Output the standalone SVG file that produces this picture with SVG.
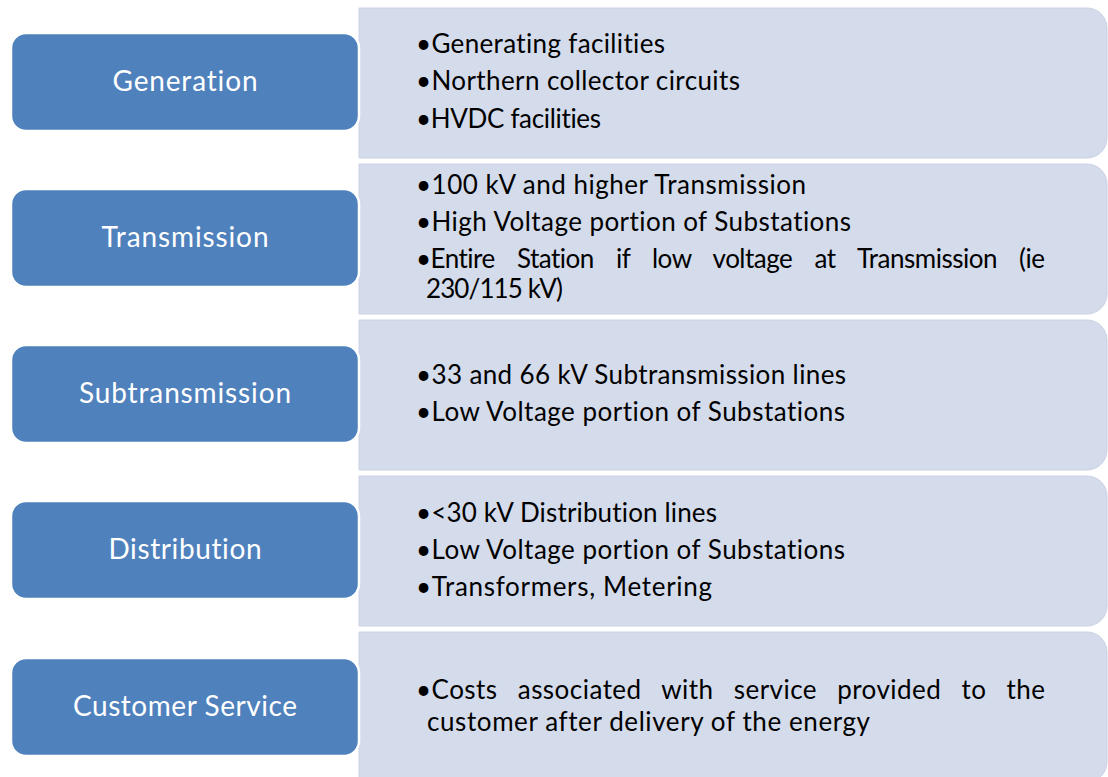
<svg xmlns="http://www.w3.org/2000/svg" width="1108" height="777" viewBox="0 0 1108 777">
  <style>
    .panel { fill: #d4dbea; stroke: #cbd2e4; stroke-width: 1; }
    .stage { fill: #4f81bd; stroke: #ffffff; stroke-width: 2.5; }
    .stage-label { font-family: Lato, "Open Sans", sans-serif; font-size: 28px; fill: #ffffff; text-anchor: middle; font-variant-ligatures: none; }
    .item { font-family: Lato, "Open Sans", sans-serif; font-size: 26px; fill: #000000; font-variant-ligatures: none; }
  </style>
  <defs>
    <!-- detail panel: square on the left, rounded on the right -->
    <path id="panel-shape" d="M359,0 H1087 A20,20 0 0 1 1107,20 V130 A20,20 0 0 1 1087,150 H359 Z"/>
  </defs>
  <rect width="1108" height="777" fill="#ffffff"/>

  <g id="connectors"/>

  <!-- detail panels -->
  <g id="panel-generation"><use href="#panel-shape" class="panel" y="8"/></g>
  <g id="panel-transmission"><use href="#panel-shape" class="panel" y="164"/></g>
  <g id="panel-subtransmission"><use href="#panel-shape" class="panel" y="320"/></g>
  <g id="panel-distribution"><use href="#panel-shape" class="panel" y="476"/></g>
  <g id="panel-customer"><use href="#panel-shape" class="panel" y="632"/></g>

  <!-- stage boxes -->
  <g id="generation">
    <rect class="stage" x="11" y="33" width="348" height="98" rx="15"/>
    <text class="stage-label" x="185" y="91" textLength="145">Generation</text>
  </g>
  <g id="transmission">
    <rect class="stage" x="11" y="189" width="348" height="98" rx="15"/>
    <text class="stage-label" x="185" y="247" textLength="167">Transmission</text>
  </g>
  <g id="subtransmission">
    <rect class="stage" x="11" y="345" width="348" height="98" rx="15"/>
    <text class="stage-label" x="185" y="403" textLength="212">Subtransmission</text>
  </g>
  <g id="distribution">
    <rect class="stage" x="11" y="501" width="348" height="98" rx="15"/>
    <text class="stage-label" x="185" y="559" textLength="153">Distribution</text>
  </g>
  <g id="customer-service">
    <rect class="stage" x="11" y="658" width="348" height="98" rx="15"/>
    <text class="stage-label" x="185" y="716" textLength="224">Customer Service</text>
  </g>

  <!-- panel texts -->
  <g id="generation-items" class="item">
    <text x="416" y="53" textLength="249">•Generating facilities</text>
    <text x="416" y="90" textLength="324">•Northern collector circuits</text>
    <text x="416" y="128" textLength="185">•HVDC facilities</text>
  </g>
  <g id="transmission-items" class="item">
    <text x="416" y="194" textLength="390">•100 kV and higher Transmission</text>
    <text x="416" y="231" textLength="435">•High Voltage portion of Substations</text>
    <!-- justified line: widened word gaps -->
    <text x="416" y="268" word-spacing="16" textLength="629">•Entire Station if low voltage at Transmission (ie</text>
    <text x="426" y="298" textLength="137">230/115 kV)</text>
  </g>
  <g id="subtransmission-items" class="item">
    <text x="416" y="384" textLength="430">•33 and 66 kV Subtransmission lines</text>
    <text x="416" y="421" textLength="429">•Low Voltage portion of Substations</text>
  </g>
  <g id="distribution-items" class="item">
    <text x="416" y="522" textLength="301">•&lt;30 kV Distribution lines</text>
    <text x="416" y="559" textLength="429">•Low Voltage portion of Substations</text>
    <text x="416" y="596" textLength="296">•Transformers, Metering</text>
  </g>
  <g id="customer-service-items" class="item">
    <!-- justified line: widened word gaps -->
    <text x="416" y="699" word-spacing="13" textLength="629">•Costs associated with service provided to the</text>
    <text x="427" y="731" textLength="443">customer after delivery of the energy</text>
  </g>
</svg>
